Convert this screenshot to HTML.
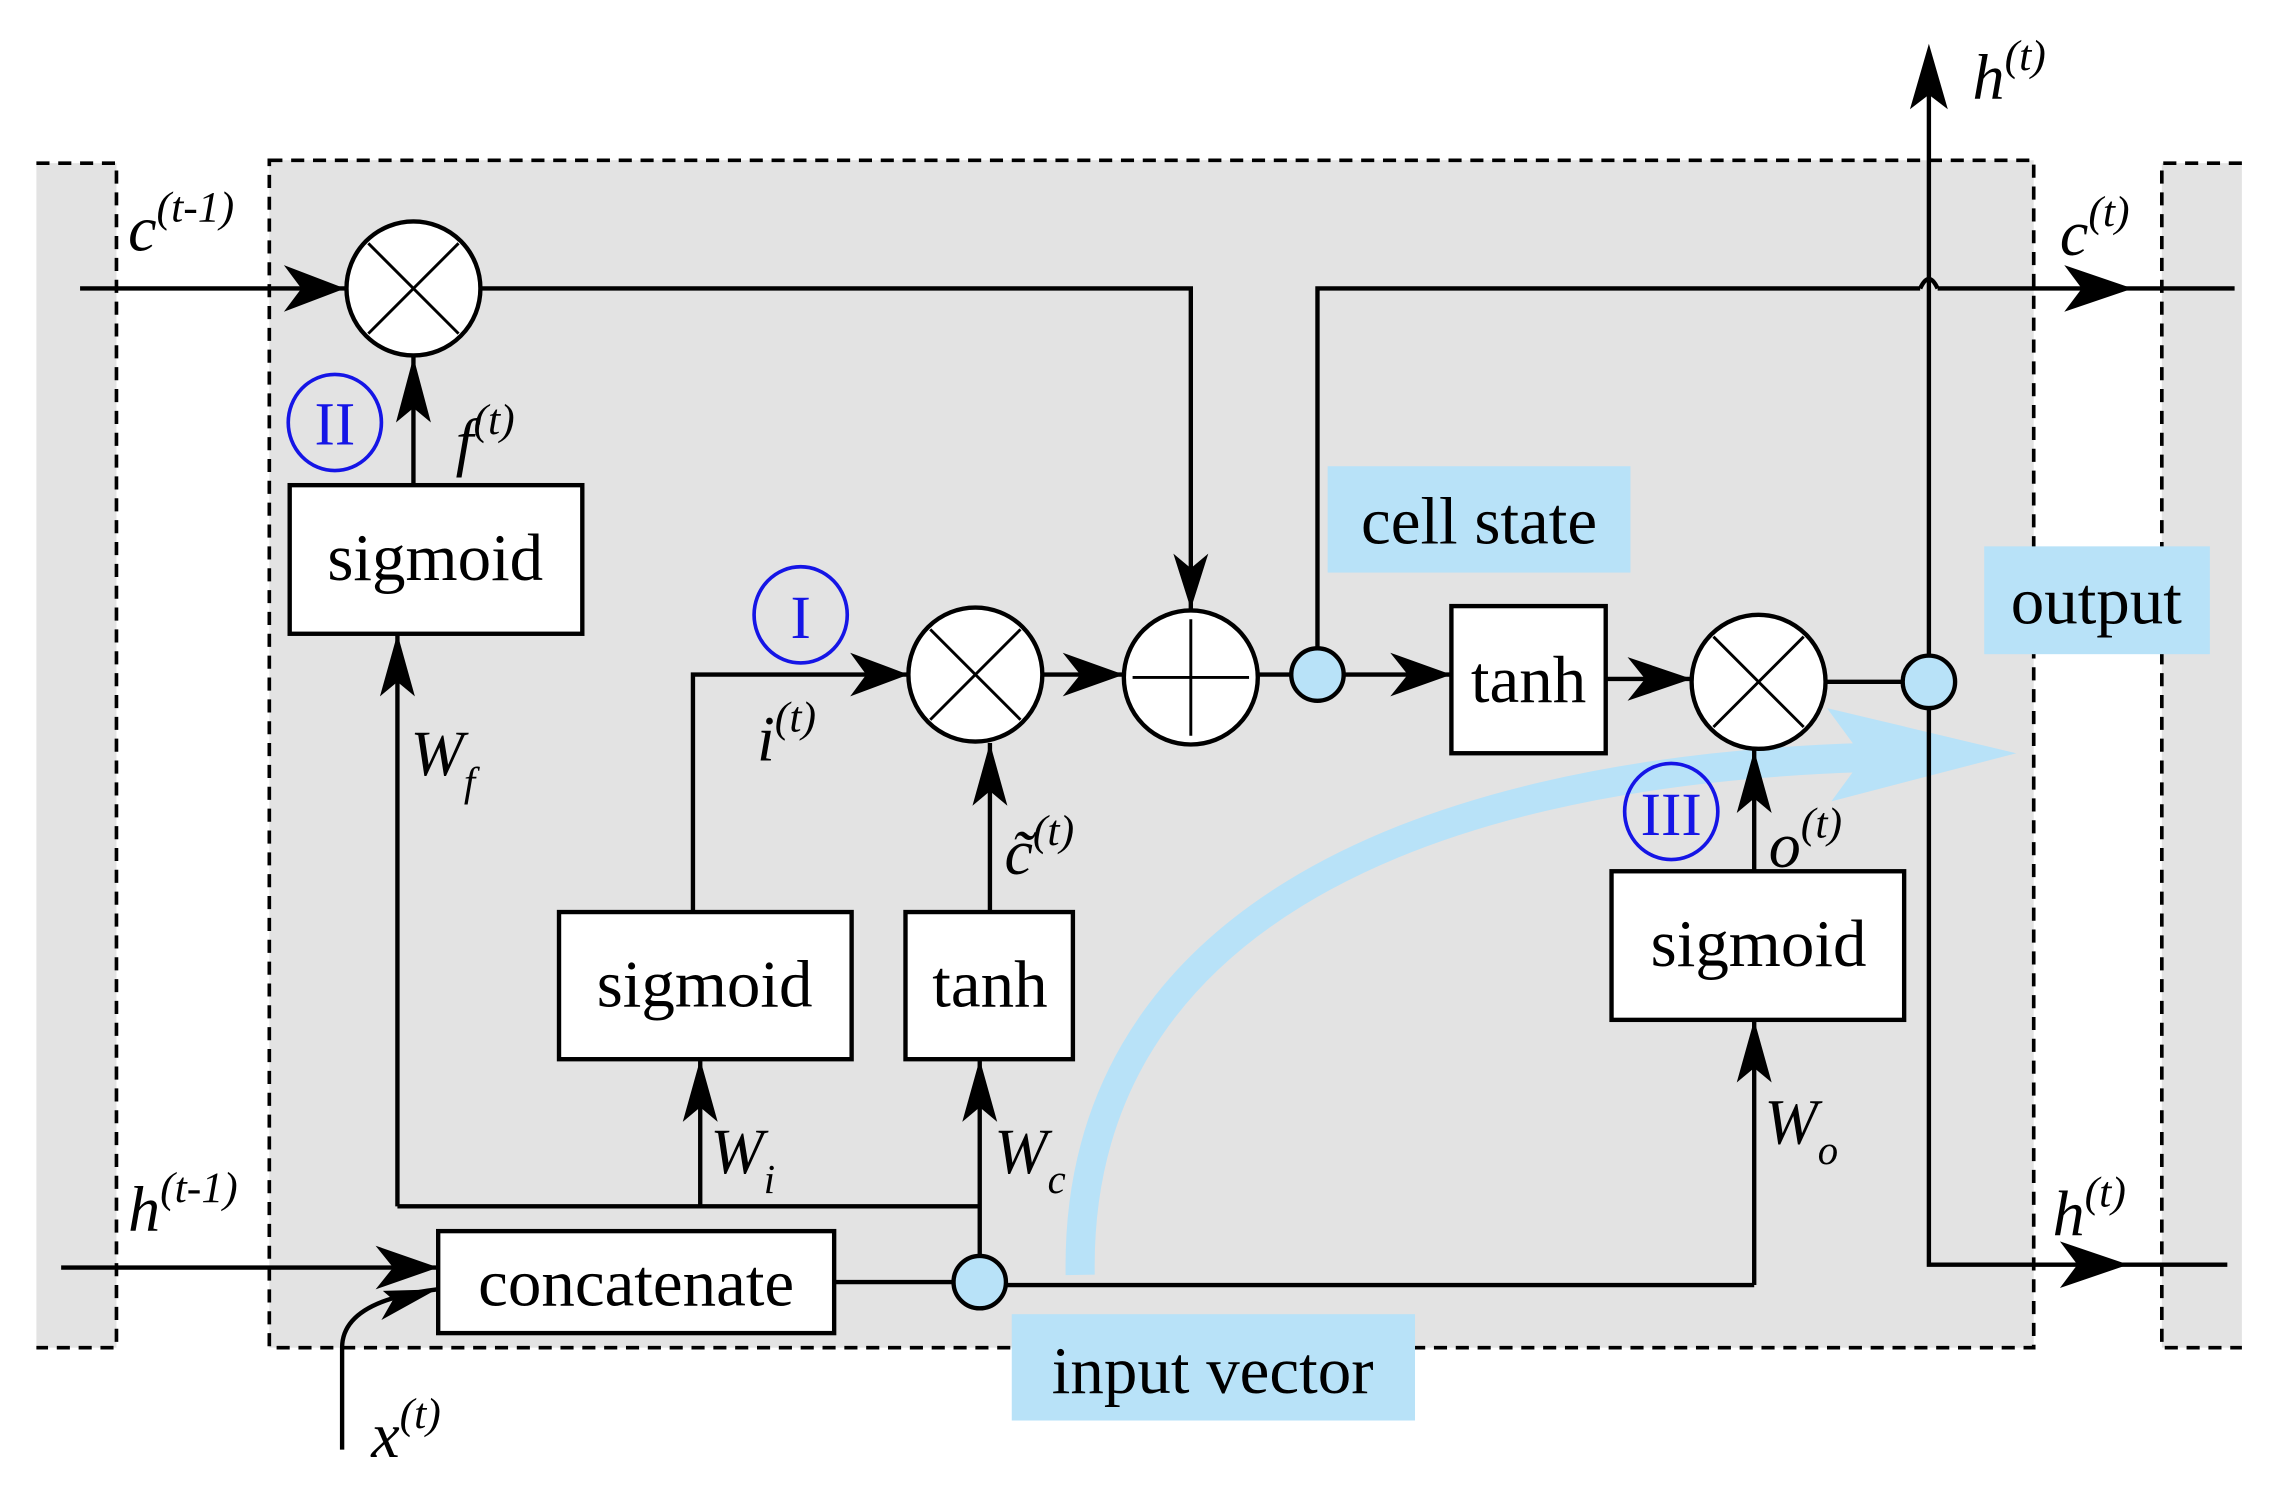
<!DOCTYPE html>
<html><head><meta charset="utf-8"><style>html,body{margin:0;padding:0;background:#fff}svg{display:block}</style></head>
<body>
<svg width="2271" height="1489" viewBox="0 0 1560 1022" preserveAspectRatio="none" xmlns="http://www.w3.org/2000/svg" font-family="Liberation Serif, serif">
<!-- backgrounds -->
<rect x="25" y="112" width="55" height="813" fill="#e3e3e3"/>
<rect x="185" y="110" width="1212" height="815" fill="#e3e3e3"/>
<rect x="1485" y="112" width="55" height="813" fill="#e3e3e3"/>
<g fill="none" stroke="#000" stroke-width="2.5" stroke-dasharray="9,6">
<path d="M25 112 H80 V925 H25"/>
<rect x="185" y="110" width="1212" height="815"/>
<path d="M1540 112 H1485 V925 H1540"/>
</g>
<!-- highlight labels -->
<rect x="912" y="320" width="208" height="73" fill="#b8e2f8"/>
<rect x="1363" y="375" width="155" height="74" fill="#b8e2f8"/>
<rect x="695" y="902" width="277" height="73" fill="#b8e2f8"/>
<!-- blue curved arrow -->
<path d="M742 875 C738 640 960 530 1280 520" fill="none" stroke="#b8e2f8" stroke-width="20"/>
<polygon points="1385,517 1255,486 1280,520 1258,550" fill="#b8e2f8"/>
<!-- lines -->
<g fill="none" stroke="#000" stroke-width="3">
<path d="M55 198 H237"/>
<path d="M331 198 H818 V418"/>
<path d="M284 333 V245"/>
<path d="M273 828 V435"/>
<path d="M273 828 H673"/>
<path d="M481 828 V727"/>
<path d="M673 862 V727"/>
<path d="M476 626 V463 H624"/>
<path d="M680 626 V510"/>
<path d="M716 463 H772"/>
<path d="M864 463 H887"/>
<path d="M905 445 V198 H1319 M1331 198 H1535"/>
<path d="M1319 198 Q1325 185 1331 198"/>
<path d="M923 463 H997"/>
<path d="M1103 466 H1162"/>
<path d="M1254 468 H1307"/>
<path d="M1325 450 V40"/>
<path d="M1325 486 V868 H1530"/>
<path d="M1205 598 V515"/>
<path d="M1205 882 V700"/>
<path d="M691 882 H1205"/>
<path d="M573 880 H655"/>
<path d="M42 870 H301"/>
<path d="M235 995 V925 Q235 893 300 885"/>
</g>
<!-- arrowheads -->
<g fill="#000">
<polygon points="237,198 195,182 207,198 195,214"/>
<polygon points="818,418 806,380 818,390 830,380"/>
<polygon points="284,245 272,290 284,280 296,290"/>
<polygon points="273,435 261,478 273,468 285,478"/>
<polygon points="481,727 469,770 481,760 493,770"/>
<polygon points="673,727 661,770 673,760 685,770"/>
<polygon points="624,463 584,448 595,463 584,478"/>
<polygon points="680,510 668,553 680,543 692,553"/>
<polygon points="772,463 730,448 742,463 730,478"/>
<polygon points="997,463 955,448 967,463 955,478"/>
<polygon points="1162,466 1118,451 1130,466 1118,481"/>
<polygon points="1205,515 1193,558 1205,548 1217,558"/>
<polygon points="1205,700 1193,743 1205,733 1217,743"/>
<polygon points="1325,30 1312,75 1325,65 1338,75"/>
<polygon points="1465,198 1418,182 1430,198 1418,214"/>
<polygon points="1462,868 1415,852 1427,868 1415,884"/>
<polygon points="301,870 258,855 270,870 258,885"/>
<polygon points="300,885 263,886 270,892 262,906"/>
</g>
<!-- circles -->
<g stroke="#000" stroke-width="3" fill="#fff">
<circle cx="284" cy="198" r="46"/>
<circle cx="670" cy="463" r="46"/>
<circle cx="818" cy="465" r="46"/>
<circle cx="1208" cy="468" r="46"/>
</g>
<g stroke="#000" stroke-width="2">
<path d="M253 167 L315 229 M315 167 L253 229"/>
<path d="M639 432 L701 494 M701 432 L639 494"/>
<path d="M1177 437 L1239 499 M1239 437 L1177 499"/>
<path d="M818 425 V505 M778 465 H858"/>
</g>
<g stroke="#000" stroke-width="3" fill="#b8e2f8">
<circle cx="905" cy="463" r="18"/>
<circle cx="1325" cy="468" r="18"/>
<circle cx="673" cy="880" r="18"/>
</g>
<!-- boxes -->
<g stroke="#000" stroke-width="3" fill="#fff">
<rect x="199" y="333" width="201" height="102"/>
<rect x="384" y="626" width="201" height="101"/>
<rect x="622" y="626" width="115" height="101"/>
<rect x="997" y="416" width="106" height="101"/>
<rect x="1107" y="598" width="201" height="102"/>
<rect x="301" y="845" width="272" height="70"/>
</g>
<g font-size="46" text-anchor="middle" fill="#000">
<text x="299" y="398">sigmoid</text>
<text x="484" y="691">sigmoid</text>
<text x="680" y="691">tanh</text>
<text x="1050" y="482">tanh</text>
<text x="1208" y="663">sigmoid</text>
<text x="437" y="896">concatenate</text>
<text x="1016" y="373">cell state</text>
<text x="1440" y="428">output</text>
<text x="833" y="956">input vector</text>
</g>
<!-- blue numerals -->
<g fill="none" stroke="#1515e6" stroke-width="2.5">
<ellipse cx="230" cy="290" rx="32" ry="33"/>
<ellipse cx="550" cy="422" rx="32" ry="33"/>
<ellipse cx="1148" cy="557" rx="32" ry="33"/>
</g>
<g font-size="42" fill="#1515e6" text-anchor="middle">
<text x="230" y="305">II</text>
<text x="550" y="438">I</text>
<text x="1148" y="573">III</text>
</g>
<!-- math labels -->
<g font-style="italic" fill="#000" font-size="44">
<text x="88" y="172">c<tspan font-size="30" dy="-20">(t-1)</tspan></text>
<text x="313" y="318">f<tspan font-size="30" dy="-20">(t)</tspan></text>
<text x="282" y="532">W<tspan font-size="28" dy="14">f</tspan></text>
<text x="520" y="522">i<tspan font-size="30" dy="-20">(t)</tspan></text>
<text x="690" y="600">c̃<tspan font-size="30" dy="-20">(t)</tspan></text>
<text x="488" y="805">W<tspan font-size="28" dy="14">i</tspan></text>
<text x="683" y="805">W<tspan font-size="28" dy="14">c</tspan></text>
<text x="1215" y="595">o<tspan font-size="30" dy="-20">(t)</tspan></text>
<text x="1212" y="785">W<tspan font-size="28" dy="14">o</tspan></text>
<text x="1355" y="68">h<tspan font-size="30" dy="-20">(t)</tspan></text>
<text x="1415" y="175">c<tspan font-size="30" dy="-20">(t)</tspan></text>
<text x="1410" y="848">h<tspan font-size="30" dy="-20">(t)</tspan></text>
<text x="88" y="845">h<tspan font-size="30" dy="-20">(t-1)</tspan></text>
<text x="255" y="1000">x<tspan font-size="30" dy="-20">(t)</tspan></text>
</g>
</svg>
</body></html>
